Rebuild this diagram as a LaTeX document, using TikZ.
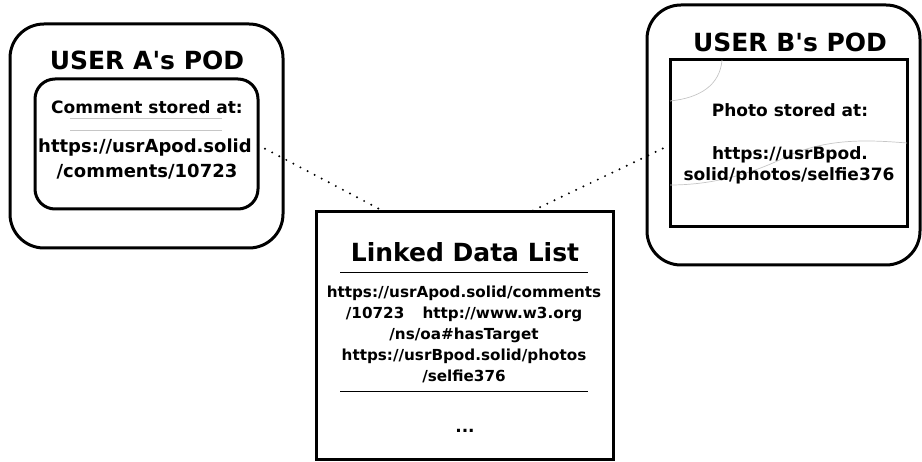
\documentclass[tikz,border=0pt]{standalone}
\usepackage{fontspec}
\setmainfont{DejaVu Sans}
\begin{document}
\begin{tikzpicture}[x=1pt,y=-1pt,
  thickbox/.style={draw=black,line width=3pt},
  txt/.style={font=\bfseries\fontsize{17}{20}\selectfont,inner sep=0pt,align=center},
  ttl/.style={font=\bfseries\fontsize{25}{28}\selectfont,inner sep=0pt},
  faint/.style={draw=gray!45,line width=0.7pt},
  link/.style={draw=black,line width=2.2pt,dash pattern=on 0pt off 8pt,line cap=round}]
\useasboundingbox (0,0) rectangle (922,462);
% User A pod
\draw[thickbox,rounded corners=34pt] (10,24) rectangle (283,248);
\node[ttl] (tA) at (147,60) {USER A\textquotesingle s POD};
\draw[thickbox,rounded corners=20pt] (35,79) rectangle (258,209);
\coordinate (Aout) at (258,145);
\draw[faint] (70,118) -- (222,118);
\draw[faint] (70,130) -- (222,130);
\node[txt] (cA) at (147,107) {Comment stored at:};
\node[txt,font=\bfseries\fontsize{18}{20}\selectfont] (uA1) at (145,148) {https://usrApod.solid};
\node[txt,font=\bfseries\fontsize{18}{20}\selectfont] (uA2) at (147,172) {/comments/10723};
% User B pod
\draw[thickbox,rounded corners=34pt] (647,5) rectangle (920,265);
\node[ttl] (tB) at (790,42) {USER B\textquotesingle s POD};
\draw[thickbox] (670,60) rectangle (907,227);
\coordinate (Bout) at (670,145);
\draw[faint] (722,60) .. controls (720,85) and (700,98) .. (670,101);
\draw[faint] (670,185) .. controls (720,185) and (760,170) .. (790,155) .. controls (830,138) and (870,140) .. (907,143);
\node[txt] (pB) at (790,110) {Photo stored at:};
\node[txt] (uB1) at (790,155) {https://usrBpod.};
\node[txt] (uB2) at (789,176) {solid/photos/selfie376};
% Linked data list
\draw[thickbox] (316,212) rectangle (613,460);
\node[font=\bfseries\fontsize{25}{28}\selectfont,inner sep=0pt] (ldl) at (465,252) {Linked Data List};
\draw[line width=0.8pt] (340,272) -- (588,272);
\node[txt,font=\bfseries\fontsize{15.2}{21}\selectfont] (lst) at (464,334) {https://usrApod.solid/comments\\/10723\hspace{1.2em}http://www.w3.org\\/ns/oa\#hasTarget\\https://usrBpod.solid/photos\\/selfie376};
\draw[line width=0.8pt] (340,391) -- (588,391);
\node[txt] (dots) at (465,431) {...};
\coordinate (LA) at (385,212);
\coordinate (LB) at (530,212);
\draw[link] (Aout) -- (LA);
\draw[link] (Bout) -- (LB);
\end{tikzpicture}
\end{document}
